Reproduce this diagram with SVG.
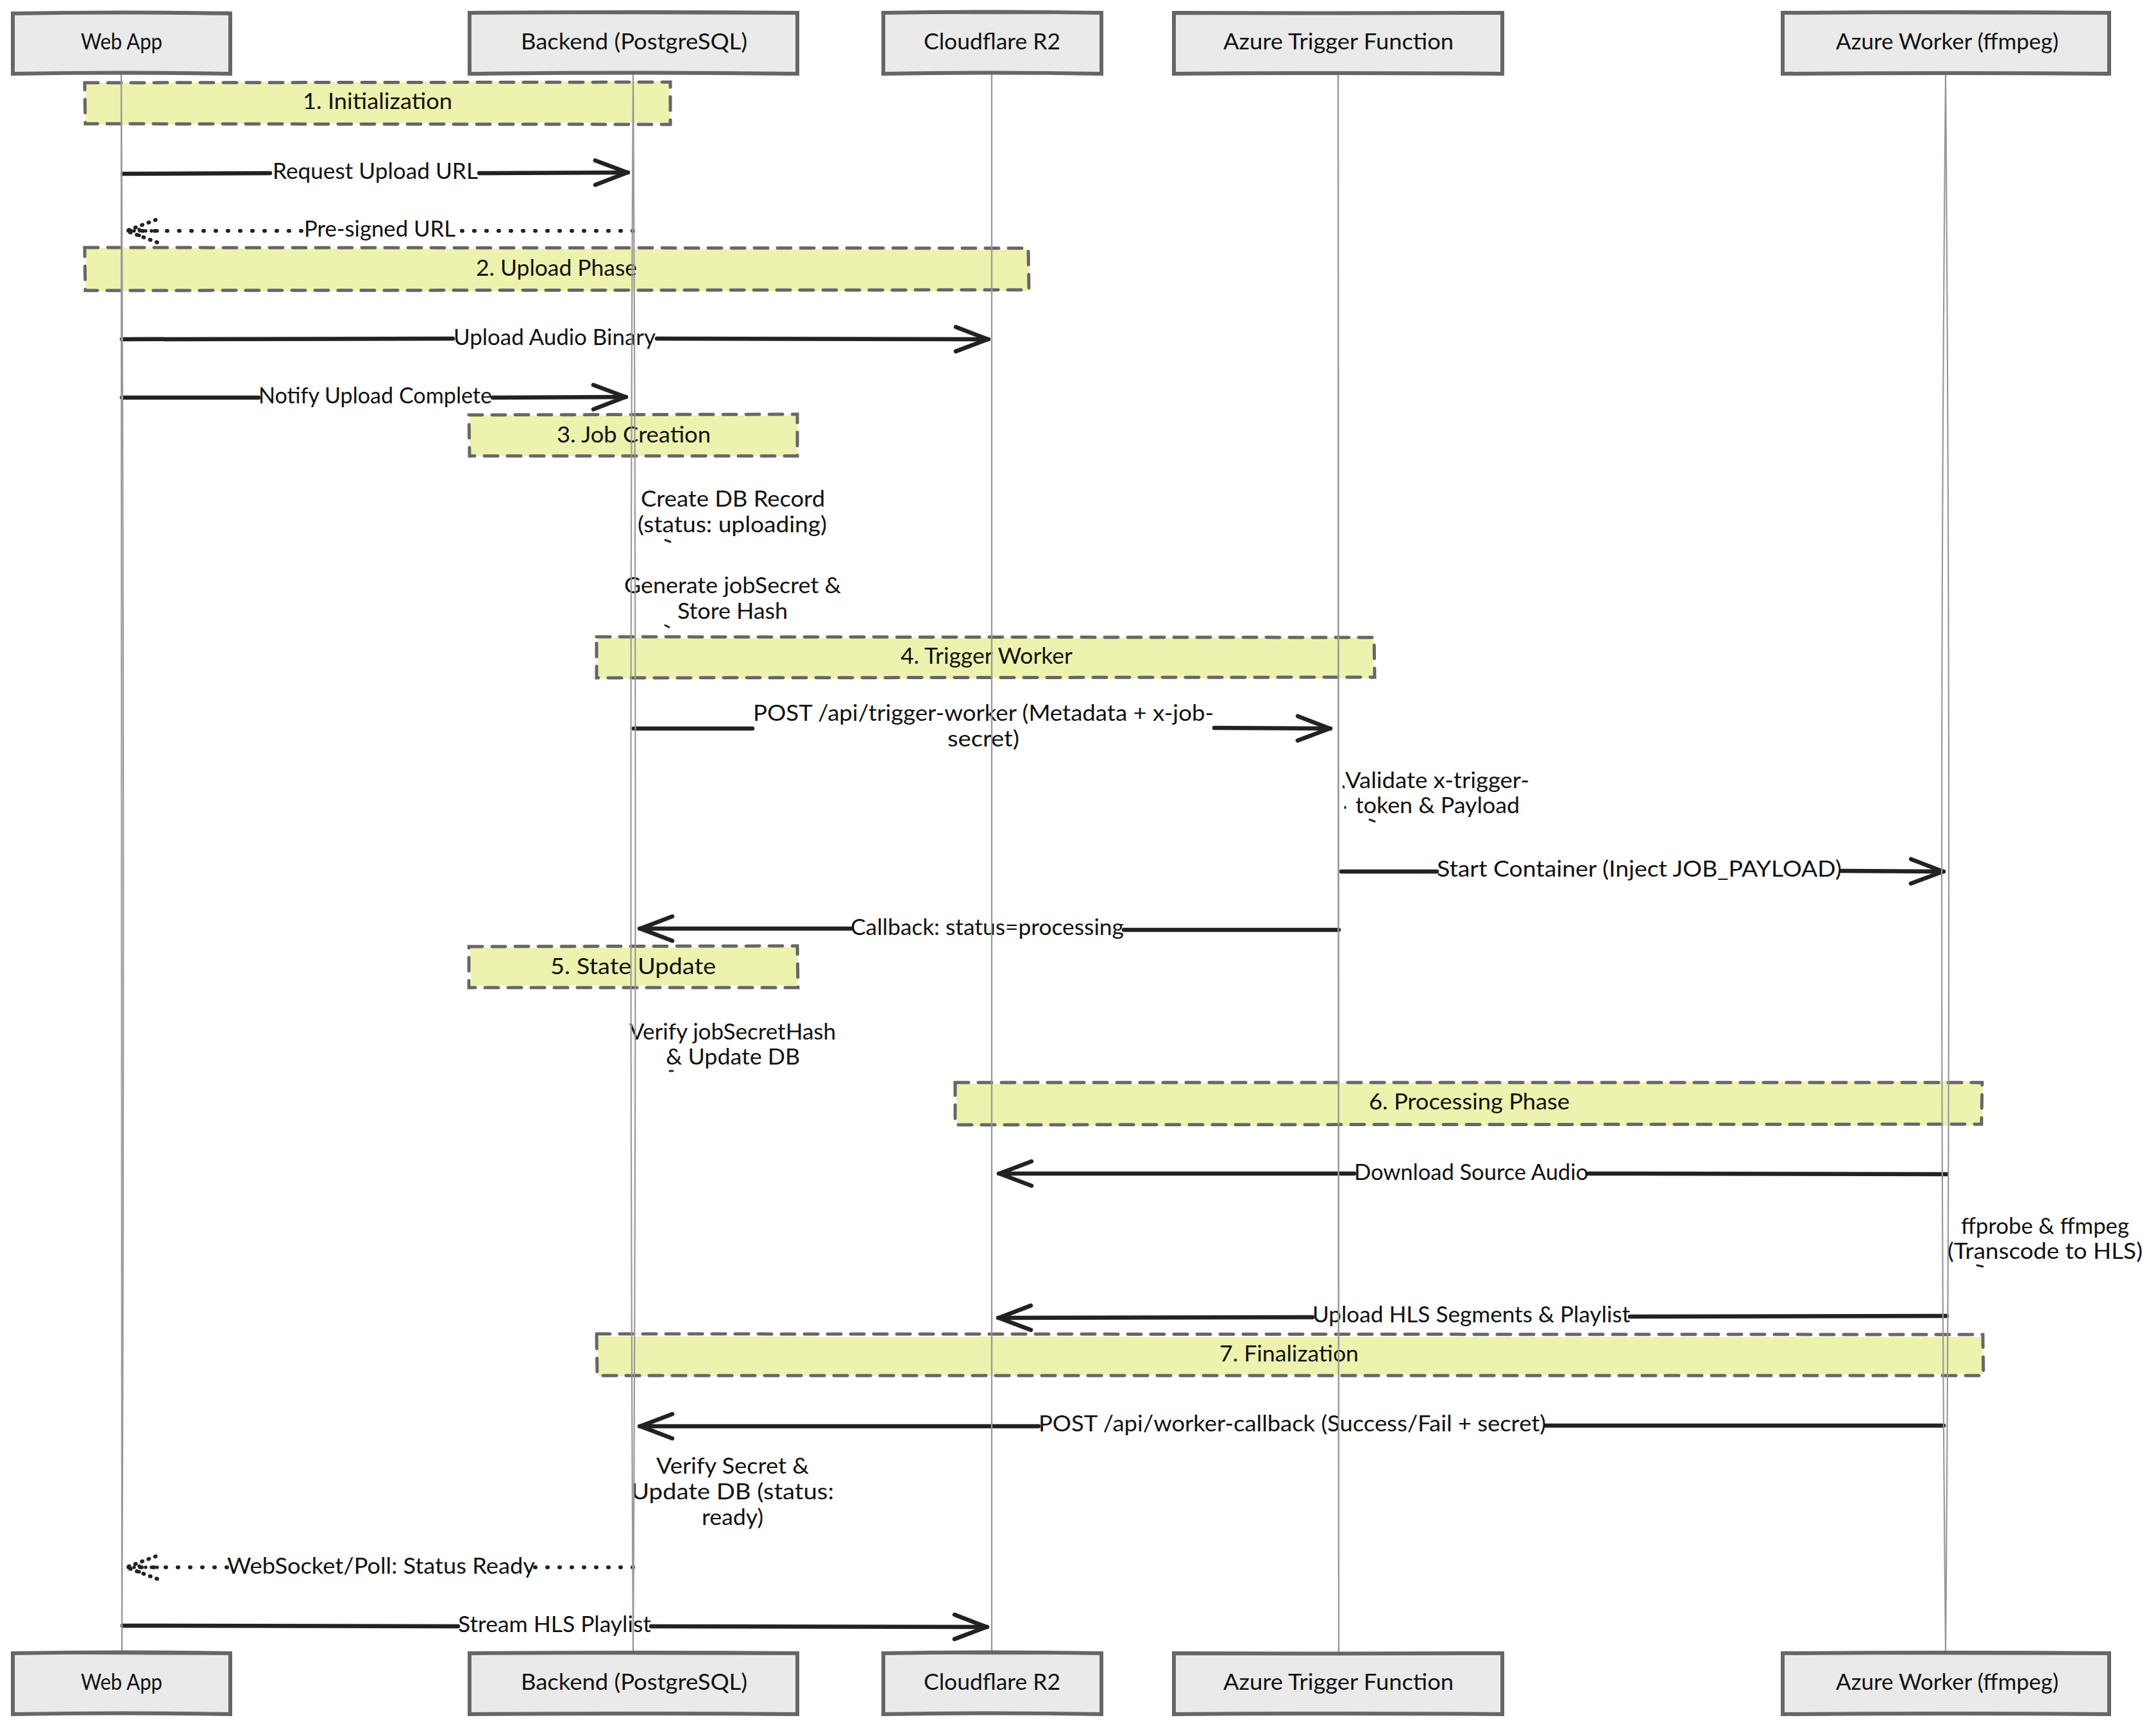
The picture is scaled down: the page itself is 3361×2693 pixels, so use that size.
<svg xmlns="http://www.w3.org/2000/svg" width="3361" height="2693" viewBox="0 0 3361 2693">
<style>
text{font-family:"Lato","Open Sans","Liberation Sans",sans-serif;font-size:34px;fill:#111;transform:translateY(2px)}
.actor{fill:#eaeaea;stroke:#666;stroke-width:6}
.sk{fill:none;stroke:#666;stroke-width:3;opacity:.7}
.notefill{fill:#edf2ae;stroke:none}
.notedash{fill:none;stroke:#666;stroke-width:5;stroke-dasharray:21 15;stroke-linecap:round}
.msg{fill:none;stroke:#222;stroke-width:6.5;stroke-linecap:round}
.msgend{marker-end:url(#open)}
.dot{fill:none;stroke:#222;stroke-width:6;stroke-linecap:round;stroke-dasharray:1 18}
.dotend{marker-end:url(#opendot)}
.tick{fill:none;stroke:#222;stroke-width:3;stroke-linecap:round}
.life{fill:none;stroke:#999;stroke-width:2.2}
</style>
<defs>
<marker id="open" markerUnits="userSpaceOnUse" markerWidth="70" markerHeight="60" refX="65" refY="30" orient="auto" overflow="visible">
<path d="M14 11 L64 30 L14 49" fill="none" stroke="#222" stroke-width="6.5" stroke-linecap="round" stroke-linejoin="round"/>
</marker>
<marker id="opendot" markerUnits="userSpaceOnUse" markerWidth="70" markerHeight="60" refX="62" refY="30" orient="auto" overflow="visible">
<path d="M14 12 L62 30 L14 48" fill="none" stroke="#222" stroke-width="6" stroke-linecap="round" stroke-dasharray="1 10"/>
<path d="M42 23 V37 M14 30 H62" fill="none" stroke="#222" stroke-width="5.5" stroke-linecap="round" stroke-dasharray="0 9"/>
</marker>
</defs>
<rect width="3361" height="2693" fill="#fff"/>

<g id="note-1"><path class="notefill" d="M133 129 L1044 127 L1044 191 L134 194 Z"/><path class="notedash" d="M132 129 L1045 128 L1045 194 L133 193 Z"/><text x="472" y="168" textLength="233" lengthAdjust="spacingAndGlyphs">1. Initialization</text></g>
<g id="note-2"><path class="notefill" d="M133 387 L1604 389 L1606 454 L134 454 Z"/><path class="notedash" d="M132 386 L1603 387 L1604 452 L133 453 Z"/><text x="742" y="428" textLength="251" lengthAdjust="spacingAndGlyphs">2. Upload Phase</text></g>
<g id="note-3"><path class="notefill" d="M733 648 L1244 648 L1243 711 L732 711 Z"/><path class="notedash" d="M731 647 L1243 646 L1243 711 L732 711 Z"/><text x="868" y="688" textLength="240" lengthAdjust="spacingAndGlyphs">3. Job Creation</text></g>
<g id="note-4"><path class="notefill" d="M932 995 L2141 994 L2142 1058 L931 1058 Z"/><path class="notedash" d="M930 993 L2142 994 L2143 1056 L930 1057 Z"/><text x="1404" y="1033" textLength="268" lengthAdjust="spacingAndGlyphs">4. Trigger Worker</text></g>
<g id="note-5"><path class="notefill" d="M733 1478 L1243 1477 L1243 1537 L735 1537 Z"/><path class="notedash" d="M731 1476 L1243 1475 L1244 1540 L731 1540 Z"/><text x="858" y="1517" textLength="258" lengthAdjust="spacingAndGlyphs">5. State Update</text></g>
<g id="note-6"><path class="notefill" d="M1490 1690 L3091 1686 L3091 1755 L1492 1756 Z"/><path class="notedash" d="M1489 1688 L3090 1688 L3089 1753 L1489 1754 Z"/><text x="2134" y="1728" textLength="313" lengthAdjust="spacingAndGlyphs">6. Processing Phase</text></g>
<g id="note-7"><path class="notefill" d="M932 2084 L3090 2085 L3092 2143 L932 2146 Z"/><path class="notedash" d="M930 2080 L3091 2081 L3092 2145 L931 2145 Z"/><text x="1901" y="2121" textLength="217" lengthAdjust="spacingAndGlyphs">7. Finalization</text></g>

<g id="connectors">
<path class="msg" d="M191 271 L421 270"/><path class="msg msgend" d="M747 270 L979 269"/>
<path class="dot" d="M987 360 L716 360"/><path class="dot dotend" d="M470 360 L197 360"/>
<path class="msg" d="M190 529 L706 528"/><path class="msg msgend" d="M1024 528 L1541 529"/>
<path class="msg" d="M190 620 L403 620"/><path class="msg msgend" d="M768 620 L976 619"/>
<path class="msg" d="M988 1136 L1173 1136"/><path class="msg msgend" d="M1893 1135 L2074 1136"/>
<path class="msg" d="M2091 1359 L2240 1359"/><path class="msg msgend" d="M2871 1358 L3030 1359"/>
<path class="msg" d="M2087 1450 L1752 1450"/><path class="msg msgend" d="M1326 1448 L997 1448"/>
<path class="msg" d="M3035 1831 L2476 1830"/><path class="msg msgend" d="M2111 1830 L1557 1830"/>
<path class="msg" d="M3035 2052 L2541 2053"/><path class="msg msgend" d="M2046 2054 L1556 2055"/>
<path class="msg" d="M3030 2223 L2410 2223"/><path class="msg msgend" d="M1619 2224 L997 2224"/>
<path class="dot" d="M987 2444 L834 2444"/><path class="dot dotend" d="M354 2444 L197 2444"/>
<path class="msg" d="M191 2535 L714 2536"/><path class="msg msgend" d="M1015 2536 L1539 2537"/>
<path class="tick" d="M1037 842 L1045 845"/><path class="tick" d="M1037 975 L1043 978"/>
<path class="tick" d="M2135 1278 L2143 1281"/><path class="tick" d="M2094 1226 L2095 1228"/><path class="tick" d="M2097 1258 L2097 1260"/>
<path class="tick" d="M1044 1670 L1049 1670"/><path class="tick" d="M3082 1973 L3091 1975"/>
</g>

<g id="labels">
<text x="425" y="277" textLength="320" lengthAdjust="spacingAndGlyphs">Request Upload URL</text>
<text x="474" y="367" textLength="236" lengthAdjust="spacingAndGlyphs">Pre-signed URL</text>
<text x="707" y="536" textLength="315" lengthAdjust="spacingAndGlyphs">Upload Audio Binary</text>
<text x="403" y="627" textLength="364" lengthAdjust="spacingAndGlyphs">Notify Upload Complete</text>
<text x="999" y="788" textLength="287" lengthAdjust="spacingAndGlyphs">Create DB Record</text>
<text x="994" y="828" textLength="295" lengthAdjust="spacingAndGlyphs">(status: uploading)</text>
<text x="973" y="923" textLength="338" lengthAdjust="spacingAndGlyphs">Generate jobSecret &amp;</text>
<text x="1056" y="963" textLength="172" lengthAdjust="spacingAndGlyphs">Store Hash</text>
<text x="1174" y="1122" textLength="718" lengthAdjust="spacingAndGlyphs">POST /api/trigger-worker (Metadata + x-job-</text>
<text x="1477" y="1162" textLength="112" lengthAdjust="spacingAndGlyphs">secret)</text>
<text x="2097" y="1227" textLength="287" lengthAdjust="spacingAndGlyphs">Validate x-trigger-</text>
<text x="2113" y="1266" textLength="256" lengthAdjust="spacingAndGlyphs">token &amp; Payload</text>
<text x="2240" y="1365" textLength="631" lengthAdjust="spacingAndGlyphs">Start Container (Inject JOB_PAYLOAD)</text>
<text x="1326" y="1456" textLength="426" lengthAdjust="spacingAndGlyphs">Callback: status=processing</text>
<text x="981" y="1619" textLength="322" lengthAdjust="spacingAndGlyphs">Verify jobSecretHash</text>
<text x="1038" y="1658" textLength="209" lengthAdjust="spacingAndGlyphs">&amp; Update DB</text>
<text x="2111" y="1838" textLength="365" lengthAdjust="spacingAndGlyphs">Download Source Audio</text>
<text x="3057" y="1922" textLength="262" lengthAdjust="spacingAndGlyphs">ffprobe &amp; ffmpeg</text>
<text x="3036" y="1961" textLength="304" lengthAdjust="spacingAndGlyphs">(Transcode to HLS)</text>
<text x="2046" y="2060" textLength="495" lengthAdjust="spacingAndGlyphs">Upload HLS Segments &amp; Playlist</text>
<text x="1619" y="2230" textLength="791" lengthAdjust="spacingAndGlyphs">POST /api/worker-callback (Success/Fail + secret)</text>
<text x="1023" y="2296" textLength="238" lengthAdjust="spacingAndGlyphs">Verify Secret &amp;</text>
<text x="984" y="2336" textLength="316" lengthAdjust="spacingAndGlyphs">Update DB (status:</text>
<text x="1094" y="2376" textLength="96" lengthAdjust="spacingAndGlyphs">ready)</text>
<text x="354" y="2452" textLength="480" lengthAdjust="spacingAndGlyphs">WebSocket/Poll: Status Ready</text>
<text x="714" y="2543" textLength="301" lengthAdjust="spacingAndGlyphs">Stream HLS Playlist</text>
</g>

<g id="lifelines">
<path class="life" d="M189 113 Q185 1300 190 2578"/><path class="life" d="M189 113 Q195 1300 190 2578"/>
<path class="life" d="M987 113 Q980 1300 987 2578"/><path class="life" d="M987 113 Q994 1300 987 2578"/>
<path class="life" d="M1546 113 Q1543 1300 1546 2578"/><path class="life" d="M1546 113 Q1549 1300 1546 2578"/>
<path class="life" d="M2086 113 Q2083 1300 2087 2578"/><path class="life" d="M2086 113 Q2090 1300 2087 2578"/>
<path class="life" d="M3033 113 Q3021 1400 3033 2578"/><path class="life" d="M3033 113 Q3043 1400 3033 2578"/>
</g>

<g id="actor-webapp-top"><path class="actor" d="M20 21 Q190 18 359 21 L359 115 Q190 112 20 115 Z"/><path class="sk" d="M20 20 Q190 22 358 19"/><text x="126" y="75" textLength="127" lengthAdjust="spacingAndGlyphs">Web App</text></g>
<g id="actor-backend-top"><path class="actor" d="M732 20 Q987 18 1243 20 L1243 115 Q987 112 732 115 Z"/><path class="sk" d="M733 19 Q987 22 1242 21"/><text x="812" y="75" textLength="353" lengthAdjust="spacingAndGlyphs">Backend (PostgreSQL)</text></g>
<g id="actor-r2-top"><path class="actor" d="M1377 20 Q1546 17 1717 20 L1717 115 Q1546 112 1377 115 Z"/><path class="sk" d="M1378 19 Q1546 22 1716 20"/><text x="1440" y="75" textLength="213" lengthAdjust="spacingAndGlyphs">Cloudflare R2</text></g>
<g id="actor-trigger-top"><path class="actor" d="M1830 20 Q2086 21 2342 20 L2342 115 Q2086 113 1830 115 Z"/><path class="sk" d="M1831 19 Q2086 19 2341 21"/><text x="1907" y="75" textLength="359" lengthAdjust="spacingAndGlyphs">Azure Trigger Function</text></g>
<g id="actor-worker-top"><path class="actor" d="M2779 20 Q3033 18 3288 20 L3288 115 Q3033 113 2779 115 Z"/><path class="sk" d="M2780 19 Q3033 22 3287 21"/><text x="2862" y="75" textLength="347" lengthAdjust="spacingAndGlyphs">Azure Worker (ffmpeg)</text></g>

<g id="actor-webapp-bottom"><path class="actor" d="M20 2578 Q190 2575 359 2578 L359 2673 Q190 2670 20 2673 Z"/><path class="sk" d="M20 2577 Q190 2580 358 2579"/><text x="126" y="2633" textLength="127" lengthAdjust="spacingAndGlyphs">Web App</text></g>
<g id="actor-backend-bottom"><path class="actor" d="M732 2578 Q987 2576 1243 2578 L1243 2673 Q987 2671 732 2673 Z"/><path class="sk" d="M733 2577 Q987 2580 1242 2579"/><text x="812" y="2633" textLength="353" lengthAdjust="spacingAndGlyphs">Backend (PostgreSQL)</text></g>
<g id="actor-r2-bottom"><path class="actor" d="M1377 2578 Q1546 2575 1717 2578 L1717 2673 Q1546 2670 1377 2673 Z"/><path class="sk" d="M1378 2577 Q1546 2580 1716 2578"/><text x="1440" y="2633" textLength="213" lengthAdjust="spacingAndGlyphs">Cloudflare R2</text></g>
<g id="actor-trigger-bottom"><path class="actor" d="M1830 2578 Q2086 2579 2342 2578 L2342 2673 Q2086 2671 1830 2673 Z"/><path class="sk" d="M1831 2577 Q2086 2577 2341 2579"/><text x="1907" y="2633" textLength="359" lengthAdjust="spacingAndGlyphs">Azure Trigger Function</text></g>
<g id="actor-worker-bottom"><path class="actor" d="M2779 2578 Q3033 2576 3288 2578 L3288 2673 Q3033 2671 2779 2673 Z"/><path class="sk" d="M2780 2577 Q3033 2580 3287 2579"/><text x="2862" y="2633" textLength="347" lengthAdjust="spacingAndGlyphs">Azure Worker (ffmpeg)</text></g>
</svg>
